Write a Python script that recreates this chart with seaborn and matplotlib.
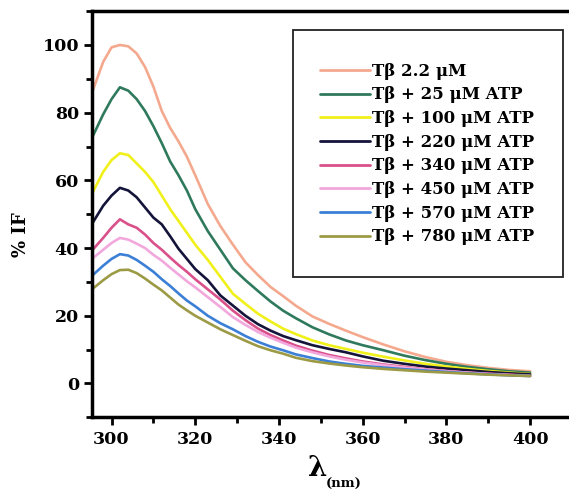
import numpy as np
import pandas as pd
import matplotlib
matplotlib.use("Agg")
import matplotlib.pyplot as plt
import matplotlib.ticker as plticker
from matplotlib.patches import Rectangle
import seaborn as sns

sns.set_style("ticks", {"axes.edgecolor": "black", "xtick.color": "black",
                        "ytick.color": "black", "text.color": "black",
                        "axes.labelcolor": "black"})
plt.rcParams['font.family'] = ['DejaVu Serif']
plt.rcParams['font.weight'] = 'bold'

# wavelength grid (nm)
wavelength = [295.5, 298, 300, 302, 304, 306, 308, 310, 312, 314, 316, 318, 320, 323, 326, 329,
              332, 335, 338, 341, 344, 348, 352, 356, 360, 365, 370, 375, 380, 385, 390, 395, 400]

labels = ["Tβ 2.2 μM", "Tβ + 25 μM ATP", "Tβ + 100 μM ATP", "Tβ + 220 μM ATP",
          "Tβ + 340 μM ATP", "Tβ + 450 μM ATP", "Tβ + 570 μM ATP", "Tβ + 780 μM ATP"]
colours = ["#f4a98e", "#2f7a5c", "#f0f01a", "#14143a", "#d9508a", "#f2a8dc", "#3b7fd6", "#9c9a45"]

if_tb = [86.5, 95, 99.3, 100, 99.6, 97.5, 93.5, 87.7, 80.5, 75.5, 71.5, 67, 61.5, 53, 46.5, 41,
         35.8, 32, 28.5, 25.8, 23, 19.8, 17.6, 15.6, 13.7, 11.5, 9.5, 7.8, 6.4, 5.4, 4.6, 4.0, 3.6]
if_25 = [73, 79.5, 84, 87.5, 86.5, 84, 80.5, 76, 71, 65.6, 61.5, 57, 51.5, 45, 39.5, 34,
         30.5, 27.3, 24.2, 21.5, 19.3, 16.6, 14.5, 12.7, 11.3, 9.8, 8.2, 6.9, 5.8, 4.9, 4.2, 3.6, 3.2]
if_100 = [56.5, 62.5, 66, 68, 67.5, 65, 62.5, 59.5, 55.5, 51.5, 48, 44.5, 41, 36.5, 31.5, 26.5,
          23.5, 20.6, 18.3, 16.2, 14.6, 12.7, 11.3, 10.2, 9.1, 7.9, 6.8, 5.8, 5.0, 4.3, 3.7, 3.2, 2.8]
if_220 = [47.5, 52.5, 55.5, 57.8, 57, 55, 52, 49, 47, 43.5, 39.8, 36.8, 33.8, 30.5, 26, 23,
          20, 17.5, 15.6, 14, 12.8, 11.3, 10.2, 9.2, 8.0, 6.7, 5.8, 5.0, 4.4, 3.9, 3.4, 3.0, 2.7]
if_340 = [39.5, 43, 46, 48.5, 47, 46, 44, 41.5, 39.5, 37.2, 35, 33, 30.8, 27.8, 24.8, 21.5,
          18.7, 16.2, 14.3, 12.7, 11.2, 9.7, 8.4, 7.4, 6.5, 5.6, 4.9, 4.2, 3.7, 3.2, 2.9, 2.6, 2.3]
if_450 = [37, 39.5, 41.5, 43, 42.5, 41.3, 40, 38, 36.3, 34.2, 32.2, 30.2, 28.4, 25.5, 22.6, 19.6,
          17.3, 15.2, 13.5, 12, 10.6, 9.2, 8, 7, 6.2, 5.4, 4.7, 4.1, 3.6, 3.2, 2.8, 2.5, 2.2]
if_570 = [32, 34.8, 36.8, 38.2, 37.8, 36.5, 34.8, 33, 30.8, 28.8, 26.6, 24.5, 22.8, 20, 17.8, 16,
          14, 12.3, 10.9, 9.8, 8.6, 7.5, 6.5, 5.8, 5.2, 4.7, 4.2, 3.8, 3.4, 3.0, 2.7, 2.4, 2.2]
if_780 = [28, 30.5, 32.3, 33.5, 33.6, 32.6, 31, 29.2, 27.5, 25.4, 23.3, 21.6, 20, 18, 16, 14.3,
          12.6, 11, 9.8, 8.8, 7.6, 6.6, 5.9, 5.3, 4.8, 4.3, 3.9, 3.5, 3.2, 2.9, 2.6, 2.4, 2.2]

series = [if_tb, if_25, if_100, if_220, if_340, if_450, if_570, if_780]

df = pd.concat([pd.DataFrame({"wl": wavelength, "IF": s, "sample": lab})
                for s, lab in zip(series, labels)], ignore_index=True)

fig = plt.figure(figsize=(5.69, 4.99), dpi=100)
ax = fig.add_axes([0.1622, 0.1637, 0.843, 0.814])

sns.lineplot(data=df, x="wl", y="IF", hue="sample", hue_order=labels,
             palette=dict(zip(labels, colours)), linewidth=1.9, ax=ax, legend=False)

ax.set_xlim(295.4, 410)
ax.set_ylim(-10, 110)
ax.xaxis.set_major_locator(plticker.FixedLocator([300, 320, 340, 360, 380, 400]))
ax.xaxis.set_minor_locator(plticker.MultipleLocator(10))
ax.yaxis.set_major_locator(plticker.FixedLocator([0, 20, 40, 60, 80, 100]))
ax.yaxis.set_minor_locator(plticker.MultipleLocator(10))
ax.tick_params(which="both", direction="out", width=2, labelsize=12.5)
ax.tick_params(which="major", length=6)
ax.tick_params(which="minor", length=4)
for lab in ax.get_xticklabels() + ax.get_yticklabels():
    lab.set_fontweight("bold")
for sp in ax.spines.values():
    sp.set_linewidth(2.5)

ax.set_xlabel("")
ax.text(0.47, -0.125, "λ", transform=ax.transAxes, fontsize=20, fontweight="bold",
        ha="center", va="center")
ax.text(0.525, -0.165, "(nm)", transform=ax.transAxes, fontsize=9.5, fontweight="bold",
        ha="center", va="center")
ax.set_ylabel("% IF", fontsize=13, fontweight="bold")
ax.yaxis.set_label_coords(-0.13, 0.45)

# legend frame
ax.add_patch(Rectangle((0.418, 0.346), 0.563, 0.608, transform=ax.transAxes,
                       facecolor="white", edgecolor="#222222", linewidth=1.3, zorder=3))
handles = [plt.Line2D([], [], color=c, linewidth=2) for c in colours]
leg = ax.legend(handles, labels, loc="upper left", bbox_to_anchor=(0.475, 0.873),
                frameon=False, fontsize=12, handlelength=3.0, handletextpad=0.12,
                labelspacing=0.4, borderpad=0, borderaxespad=0)
leg.set_zorder(4)
for t in leg.get_texts():
    t.set_fontweight("bold")

fig.savefig("out.png", dpi=100)
